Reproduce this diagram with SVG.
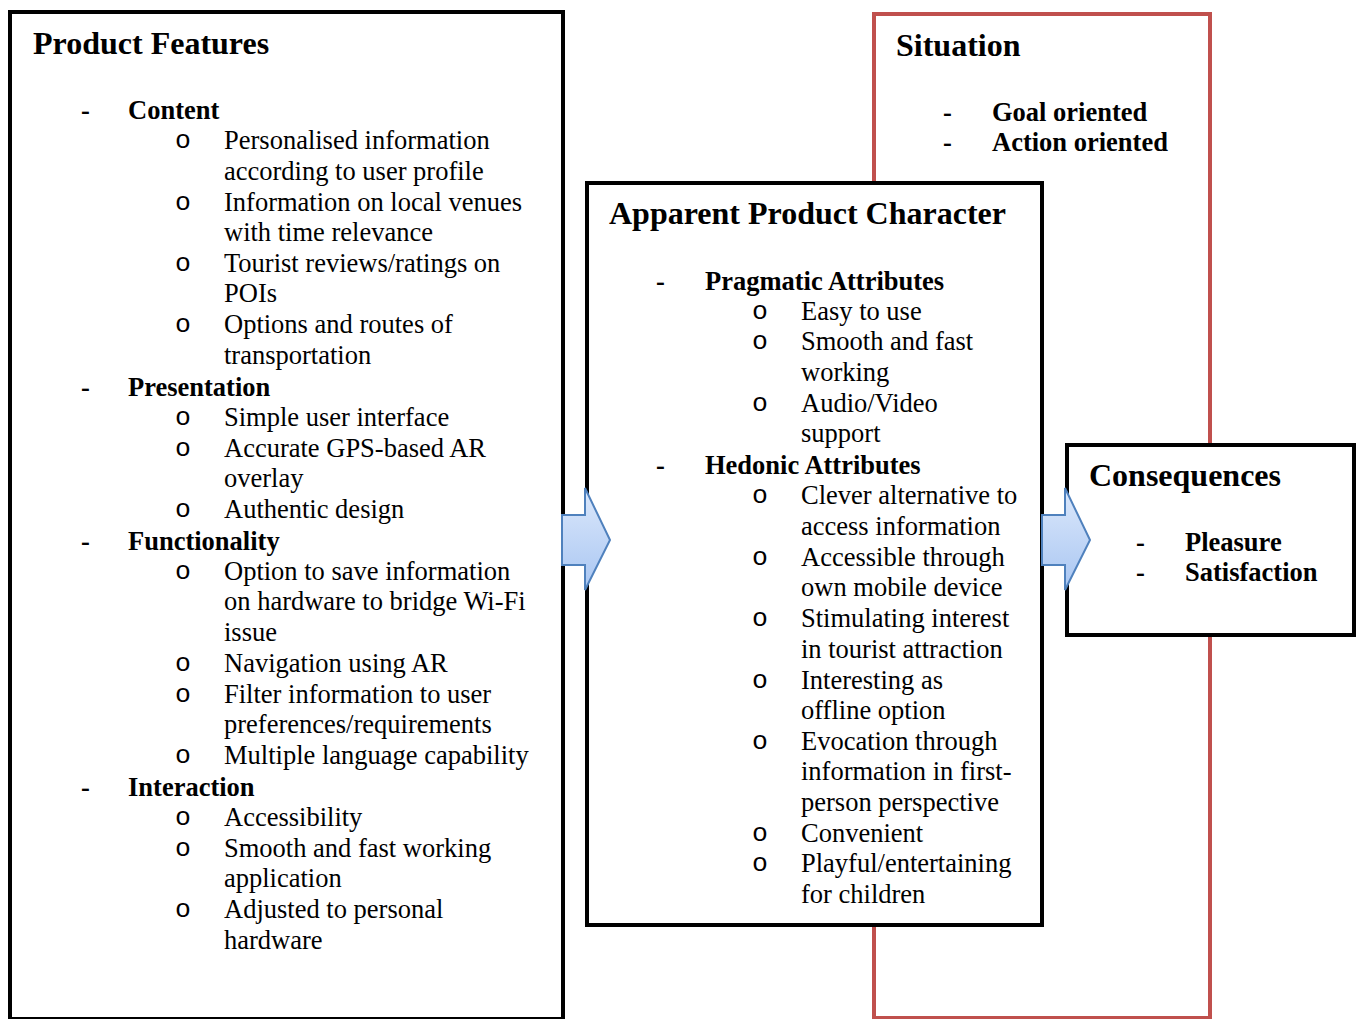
<svg xmlns="http://www.w3.org/2000/svg" width="1357" height="1019" viewBox="0 0 1357 1019">
<style>
text{font-family:"Liberation Serif","Times New Roman",serif;fill:#000}
.t{font-size:32px;font-weight:bold}
.h{font-size:26.5px;font-weight:bold}
.b{font-size:26.5px}
.o text{font-family:"Liberation Mono","Courier New",monospace;font-size:26.5px;text-anchor:middle}
.box{fill:#fff;stroke:#000;stroke-width:4}
.red{fill:none;stroke:#C0504D;stroke-width:4}
.arr{fill:url(#g);stroke:#4F81BD;stroke-width:2;stroke-linejoin:miter}
</style>
<defs>
<linearGradient id="g" x1="0" y1="0" x2="0" y2="1">
<stop offset="0" stop-color="#DCE8FB"/>
<stop offset="1" stop-color="#A9C6F2"/>
</linearGradient>
</defs>
<rect width="1357" height="1019" fill="#fff"/>
<g id="situation">
<rect class="red" x="874" y="14" width="336" height="1004"/>
<text class="t" x="896" y="56">Situation</text>
<text class="h" x="943" y="121">-</text>
<text class="h" x="992" y="121">Goal oriented</text>
<text class="h" x="943" y="151">-</text>
<text class="h" x="992" y="151">Action oriented</text>
</g>
<g id="product-features">
<rect class="box" x="10" y="12" width="553" height="1007"/>
<text class="t" x="33" y="54">Product Features</text>
<g class="h">
<text x="81" y="119">-</text><text x="128" y="119">Content</text>
<text x="81" y="396">-</text><text x="128" y="396">Presentation</text>
<text x="81" y="550">-</text><text x="128" y="550">Functionality</text>
<text x="81" y="796">-</text><text x="128" y="796">Interaction</text>
</g>
<g class="o">
<text x="183" y="148">o</text><text x="183" y="210">o</text><text x="183" y="271">o</text><text x="183" y="332">o</text>
<text x="183" y="425">o</text><text x="183" y="456">o</text><text x="183" y="517">o</text>
<text x="183" y="579">o</text><text x="183" y="671">o</text><text x="183" y="702">o</text><text x="183" y="763">o</text>
<text x="183" y="825">o</text><text x="183" y="856">o</text><text x="183" y="917">o</text>
</g>
<g class="b">
<text x="224" y="149">Personalised information</text>
<text x="224" y="180">according to user profile</text>
<text x="224" y="211">Information on local venues</text>
<text x="224" y="241">with time relevance</text>
<text x="224" y="272">Tourist reviews/ratings on</text>
<text x="224" y="302">POIs</text>
<text x="224" y="333">Options and routes of</text>
<text x="224" y="364">transportation</text>
<text x="224" y="426">Simple user interface</text>
<text x="224" y="457">Accurate GPS-based AR</text>
<text x="224" y="487">overlay</text>
<text x="224" y="518">Authentic design</text>
<text x="224" y="580">Option to save information</text>
<text x="224" y="610">on hardware to bridge Wi-Fi</text>
<text x="224" y="641">issue</text>
<text x="224" y="672">Navigation using AR</text>
<text x="224" y="703">Filter information to user</text>
<text x="224" y="733">preferences/requirements</text>
<text x="224" y="764">Multiple language capability</text>
<text x="224" y="826">Accessibility</text>
<text x="224" y="857">Smooth and fast working</text>
<text x="224" y="887">application</text>
<text x="224" y="918">Adjusted to personal</text>
<text x="224" y="949">hardware</text>
</g>
</g>
<g id="apparent-product-character">
<rect class="box" x="587" y="183" width="455" height="742"/>
<text class="t" x="609" y="224">Apparent Product Character</text>
<g class="h">
<text x="656" y="290">-</text><text x="705" y="290">Pragmatic Attributes</text>
<text x="656" y="474">-</text><text x="705" y="474">Hedonic Attributes</text>
</g>
<g class="o">
<text x="760" y="319">o</text><text x="760" y="349">o</text><text x="760" y="411">o</text>
<text x="760" y="503">o</text><text x="760" y="565">o</text><text x="760" y="626">o</text><text x="760" y="688">o</text>
<text x="760" y="749">o</text><text x="760" y="841">o</text><text x="760" y="871">o</text>
</g>
<g class="b">
<text x="801" y="320">Easy to use</text>
<text x="801" y="350">Smooth and fast</text>
<text x="801" y="381">working</text>
<text x="801" y="412">Audio/Video</text>
<text x="801" y="442">support</text>
<text x="801" y="504">Clever alternative to</text>
<text x="801" y="535">access information</text>
<text x="801" y="566">Accessible through</text>
<text x="801" y="596">own mobile device</text>
<text x="801" y="627">Stimulating interest</text>
<text x="801" y="658">in tourist attraction</text>
<text x="801" y="689">Interesting as</text>
<text x="801" y="719">offline option</text>
<text x="801" y="750">Evocation through</text>
<text x="801" y="780">information in first-</text>
<text x="801" y="811">person perspective</text>
<text x="801" y="842">Convenient</text>
<text x="801" y="872">Playful/entertaining</text>
<text x="801" y="903">for children</text>
</g>
</g>
<g id="consequences">
<rect class="box" x="1067" y="445" width="287" height="190"/>
<text class="t" x="1089" y="486">Consequences</text>
<text class="h" x="1136" y="551">-</text><text class="h" x="1185" y="551">Pleasure</text>
<text class="h" x="1136" y="581">-</text><text class="h" x="1185" y="581">Satisfaction</text>
</g>
<g id="connectors">
<path class="arr" d="M562,515 H585 V488 L610,540 L585,590 V565 H562 Z"/>
<path class="arr" d="M1042,515 H1065 V488 L1090,540 L1065,590 V565 H1042 Z"/>
</g>
</svg>
